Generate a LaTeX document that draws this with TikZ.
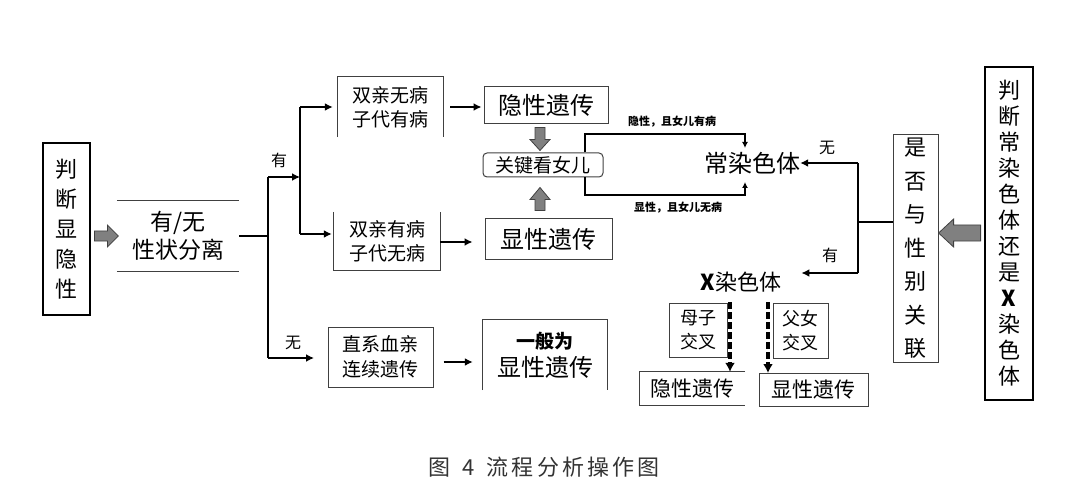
\documentclass[tikz,border=0pt]{standalone}
\usepackage{fontspec}
\setmainfont{Noto Sans CJK SC}
\usetikzlibrary{arrows.meta,calc}
\begin{document}
\begin{tikzpicture}[x=1pt,y=-1pt,
  box/.style={draw=black!75, line width=1pt, inner sep=0pt, align=center},
  openbox/.style={draw=none, inner sep=0pt, align=center},
  thickbox/.style={draw=black, line width=2.8pt, inner sep=0pt, align=center},
  edge/.style={draw=black!75, line width=1pt},
  conn/.style={line width=2.4pt, -{Latex[length=8pt,width=8pt]}},
  wire/.style={line width=2.4pt},
  thinconn/.style={line width=1.8pt, -{Latex[length=6pt,width=6pt]}},
  dashconn/.style={line width=3.4pt, dash pattern=on 7pt off 3pt, -{Latex[length=9pt,width=10pt]}},
  gblock/.style={fill=black!50, draw=black!75, line width=0.8pt},
  lab/.style={inner sep=0pt, font=\fontsize{16}{18}\selectfont},
  small/.style={inner sep=0pt, font=\bfseries\fontsize{11}{13}\selectfont},
]
\useasboundingbox (0,0) rectangle (1080,492);

% left part
\node[thickbox, minimum width=47, minimum height=172, font=\fontsize{22}{30}\selectfont]
  (L) at (66.5,229) {判\\断\\显\\隐\\性};
\node[openbox, minimum width=122, minimum height=70, font=\fontsize{23}{28}\selectfont]
  (sep) at (178,236) {有/无\\性状分离};
\draw[edge] (sep.north west) -- (sep.north east);
\draw[edge] (sep.south west) -- (sep.south east);
\coordinate (p1) at ($(L.east|-sep.west)+(3,0)$);
\draw[gblock] ($(p1)+(0,-5)$) -- ($(p1)+(13,-5)$) -- ($(p1)+(13,-11)$) -- ($(p1)+(24,0)$)
  -- ($(p1)+(13,11)$) -- ($(p1)+(13,5)$) -- ($(p1)+(0,5)$) -- cycle;

% branch coordinates
\coordinate (j1) at (268,236);
\coordinate (jt) at (268,177);
\coordinate (jb) at (268,358);
\coordinate (v2) at (300,177);
\coordinate (v2t) at (300,107);
\coordinate (v2b) at (300,234);

\draw[wire] (sep.east) -- (j1);
\draw[wire] (jt) -- (jb);
\draw[conn] (jt) -- (v2);
\node[lab] (you1) at (279,160) {有};
\draw[wire] (v2t) -- (v2b);

% upper branch
\node[openbox, minimum width=105, minimum height=60, font=\fontsize{19}{24}\selectfont]
  (A1) at (390.5,107) {双亲无病\\子代有病};
\draw[edge] (A1.south west) -- (A1.north west) -- (A1.north east) -- (A1.south east);
\node[openbox, minimum width=106, minimum height=58, font=\fontsize{19}{24}\selectfont]
  (A2) at (387,241) {双亲有病\\子代无病};
\draw[edge] (A2.north west) -- (A2.south west) -- (A2.south east) -- (A2.north east);
\draw[conn] (v2t) -- ($(A1.west)+(-5,0)$);
\draw[conn] (v2b) -- ($(A2.west)+(-2,-7)$);

\node[box, minimum width=124, minimum height=37, font=\fontsize{24}{28}\selectfont]
  (R1) at (546,105.5) {隐性遗传};
\node[box, minimum width=127, minimum height=40, font=\fontsize{24}{28}\selectfont]
  (D1) at (548.5,239) {显性遗传};
\node[box, rounded corners=4pt, minimum width=120, minimum height=24, font=\fontsize{19}{22}\selectfont]
  (key) at (543,165) {关键看女儿};
\draw[conn, shorten >=2pt, shorten <=7pt] (A1.east) -- (A1.east-|R1.west);
\draw[conn, shorten >=12pt] (A2.east|-440,242) -- (D1.west|-440,242);

% gray arrows into key
\coordinate (p2) at ($(R1.south)+(-6,3)$);
\draw[gblock] ($(p2)+(-5,0)$) -- ($(p2)+(-5,12)$) -- ($(p2)+(-10,12)$) -- ($(p2)+(0,23)$)
  -- ($(p2)+(10,12)$) -- ($(p2)+(5,12)$) -- ($(p2)+(5,0)$) -- cycle;
\coordinate (p3) at ($(D1.north)+(-8.5,-8)$);
\draw[gblock] ($(p3)+(-5,0)$) -- ($(p3)+(-5,-11)$) -- ($(p3)+(-10,-11)$) -- ($(p3)+(0,-23)$)
  -- ($(p3)+(10,-11)$) -- ($(p3)+(5,-11)$) -- ($(p3)+(5,0)$) -- cycle;

% autosome
\node[inner sep=0pt, font=\fontsize{24}{28}\selectfont] (auto) at (752,163) {常染色体};
\coordinate (kt) at (585,134);
\coordinate (kb) at (585,195);
\draw[thinconn] (key.north-|kt) -- (kt) -- (745,134) -- (745,148);
\draw[thinconn] (key.south-|kb) -- (kb) -- (745,195) -- (745,182);
\node[small] (lt) at (672,122) {隐性，且女儿有病};
\node[small] (lb) at (678,208) {显性，且女儿无病};

% lower branch
\draw[conn] (jb) -- (314,358);
\node[lab] (wu1) at (293,343) {无};
\node[box, minimum width=105, minimum height=60, font=\fontsize{19}{25}\selectfont]
  (B1) at (380.5,357) {直系血亲\\连续遗传};
\node[openbox, minimum width=124, minimum height=70, font=\fontsize{24}{28}\selectfont]
  (B2) at (545,355) {{\bfseries\itshape\fontsize{19}{22}\selectfont 一般为}\\显性遗传};
\draw[edge] (B2.south west) -- (B2.north west) -- (B2.north east) -- (B2.south east);
\draw[conn, shorten <=10pt, shorten >=10pt] (B1.east|-440,362) -- (B2.west|-440,362);

% right part
\node[thickbox, minimum width=48, minimum height=333, font=\fontsize{22}{26}\selectfont]
  (RX) at (1009,233.5) {判\\断\\常\\染\\色\\体\\还\\是\\{\bfseries X}\\染\\色\\体};
\node[box, minimum width=45, minimum height=227, font=\fontsize{22}{33.5}\selectfont]
  (S) at (915.5,248.5) {是\\否\\与\\性\\别\\关\\联};
\coordinate (p4) at ($(RX.west|-0,233)+(-3,0)$);
\draw[gblock] ($(p4)+(0,-8)$) -- ($(p4)+(-27,-8)$) -- ($(p4)+(-27,-14)$) -- ($(p4)+(-42,0)$)
  -- ($(p4)+(-27,14)$) -- ($(p4)+(-27,8)$) -- ($(p4)+(0,8)$) -- cycle;

\coordinate (rj) at (858,222);
\coordinate (rt) at (858,163);
\coordinate (rb) at (858,273);
\draw[wire] (S.west|-rj) -- (rj);
\draw[wire] (rt) -- (rb);
\node[inner sep=0pt, font=\fontsize{22}{26}\selectfont] (xc) at (741,282) {{\bfseries X}染色体};
\draw[conn] (rt) -- (auto.east);
\draw[conn] (rb) -- ($(xc.east)+(20,-9)$);
\node[lab] (wu2) at (827,148) {无};
\node[lab] (you2) at (830,255) {有};

\node[box, minimum width=58, minimum height=54, font=\fontsize{18}{24}\selectfont]
  (MZ) at (698,330) {母子\\交叉};
\node[box, minimum width=55, minimum height=55, font=\fontsize{18}{24}\selectfont]
  (FN) at (800.5,330.5) {父女\\交叉};
\node[openbox, minimum width=105, minimum height=33, font=\fontsize{21}{24}\selectfont]
  (RB) at (692.5,388.5) {隐性遗传};
\draw[edge] (RB.north east) -- (RB.north west) -- (RB.south west) -- (RB.south east);
\node[box, minimum width=109, minimum height=33, font=\fontsize{21}{24}\selectfont]
  (DB) at (813.5,389.5) {显性遗传};
\draw[dashconn] (730,302) -- (RB.north-|730,0);
\draw[dashconn] (768,302) -- (768,373);

% caption
\node[inner sep=0pt, text=black!80, font=\fontsize{22}{24}\selectfont\addfontfeature{LetterSpace=14}] (cap) at (544,467) {图\hspace{12pt}4\hspace{12pt}流程分析操作图};
\end{tikzpicture}
\end{document}
